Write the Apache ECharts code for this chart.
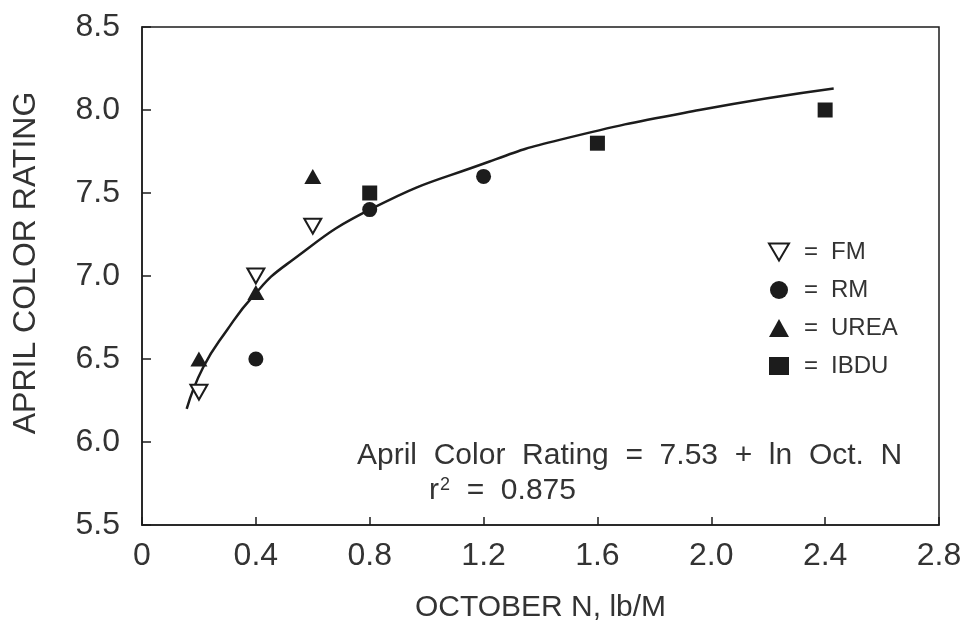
<!DOCTYPE html>
<html><head><meta charset="utf-8">
<script src="https://cdn.jsdelivr.net/npm/echarts@6/dist/echarts.min.js"></script>
<style>html,body{margin:0;padding:0;background:#fff}#c{width:966px;height:635px}</style>
</head><body><div id="c"></div>
<script>
// Tick labels
const xTickLabels = ['0', '0.4', '0.8', '1.2', '1.6', '2.0', '2.4', '2.8'];
const yTickLabels = ['5.5', '6.0', '6.5', '7.0', '7.5', '8.0', '8.5'];

// Series values (October N, April color rating)
const fmX = [0.2, 0.4, 0.6];
const fmY = [6.3, 7.0, 7.3];
const rmX = [0.4, 0.8, 1.2];
const rmY = [6.5, 7.4, 7.6];
const ureaX = [0.2, 0.4, 0.6];
const ureaY = [6.5, 6.9, 7.6];
const ibduX = [0.8, 1.6, 2.4];
const ibduY = [7.5, 7.8, 8.0];

// Fitted curve
const curveX = [0.157, 0.215, 0.297, 0.391, 0.508, 0.812, 1.221, 1.467, 1.958, 2.43];
const curveY = [6.20, 6.45, 6.67, 6.88, 7.07, 7.41, 7.69, 7.82, 8.00, 8.13];

const FONT = "'Liberation Sans', Arial, sans-serif";
const TXT = '#333';
const INK = '#1c1c1c';

function pairs(xs, ys) { return xs.map((x, i) => [x, ys[i]]); }

const chart = echarts.init(document.getElementById('c'), null, { renderer: 'canvas' });
chart.setOption({
  backgroundColor: '#fff',
  animation: false,
  grid: { left: 142, right: 27, top: 27, bottom: 110, show: true, borderColor: INK, borderWidth: 1.5, backgroundColor: 'transparent' },
  xAxis: {
    type: 'value', min: 0, max: 2.8, interval: 0.4,
    name: 'OCTOBER N, lb/M', nameLocation: 'middle', nameGap: 68,
    nameTextStyle: { fontFamily: FONT, fontSize: 30, color: TXT },
    axisLine: { show: true, lineStyle: { color: INK, width: 1.5 } },
    axisTick: { show: true, inside: true, length: 8, lineStyle: { color: INK, width: 1.5 } },
    splitLine: { show: false },
    axisLabel: {
      fontFamily: FONT, fontSize: 32, color: TXT, margin: 15,
      formatter: v => xTickLabels[Math.round(v / 0.4)]
    }
  },
  yAxis: {
    type: 'value', min: 5.5, max: 8.5, interval: 0.5,
    name: 'APRIL COLOR RATING', nameLocation: 'middle', nameGap: 100,
    nameTextStyle: { fontFamily: FONT, fontSize: 32, color: TXT, padding: [0, 0, 0, 26] },
    axisLine: { show: true, lineStyle: { color: INK, width: 1.5 } },
    axisTick: { show: true, inside: true, length: 9, lineStyle: { color: INK, width: 1.5 } },
    splitLine: { show: false },
    axisLabel: {
      fontFamily: FONT, fontSize: 32, color: TXT, margin: 22,
      formatter: v => yTickLabels[Math.round((v - 5.5) / 0.5)]
    }
  },
  legend: {
    data: [
      { name: 'FM', icon: 'path://M0,0L20,0L10,17Z' },
      'RM', 'UREA', 'IBDU'
    ],
    orient: 'vertical', left: 763, top: 235,
    itemWidth: 20, itemHeight: 18, itemGap: 14,
    formatter: n => '{e|=}' + n,
    textStyle: {
      fontFamily: FONT, fontSize: 24, color: TXT,
      rich: { e: { width: 27, fontFamily: FONT, fontSize: 24, color: TXT, padding: [0, 0, 0, 10] } }
    }
  },
  graphic: [
    {
      type: 'text', left: 357, top: 441,
      style: { text: 'April  Color  Rating  =  7.53  +  ln  Oct.  N', font: "30px 'Liberation Sans', Arial, sans-serif", fill: TXT }
    },
    {
      type: 'text', left: 429, top: 476,
      style: {
        text: 'r{s|2}  =  0.875', font: "30px 'Liberation Sans', Arial, sans-serif", fill: TXT,
        rich: { s: { fontSize: 18, verticalAlign: 'top', padding: [0, 0, 12, 1], fill: TXT, fontFamily: FONT } }
      }
    }
  ],
  series: [
    {
      name: 'fit', type: 'line', data: pairs(curveX, curveY), smooth: 0.5, showSymbol: false,
      lineStyle: { color: INK, width: 2.5 }, z: 1, silent: true
    },
    {
      name: 'FM', type: 'scatter', data: pairs(fmX, fmY), symbol: 'triangle', symbolRotate: 180, symbolSize: [17, 15],
      itemStyle: { color: '#fff', borderColor: INK, borderWidth: 2, opacity: 1 }, z: 3
    },
    {
      name: 'RM', type: 'scatter', data: pairs(rmX, rmY), symbol: 'circle', symbolSize: 15,
      itemStyle: { color: INK, opacity: 1 }, z: 3
    },
    {
      name: 'UREA', type: 'scatter', data: pairs(ureaX, ureaY), symbol: 'triangle', symbolSize: [17, 15],
      itemStyle: { color: INK, opacity: 1 }, z: 3
    },
    {
      name: 'IBDU', type: 'scatter', data: pairs(ibduX, ibduY), symbol: 'rect', symbolSize: 15,
      itemStyle: { color: INK, opacity: 1 }, z: 3
    }
  ]
});
</script>
</body></html>
